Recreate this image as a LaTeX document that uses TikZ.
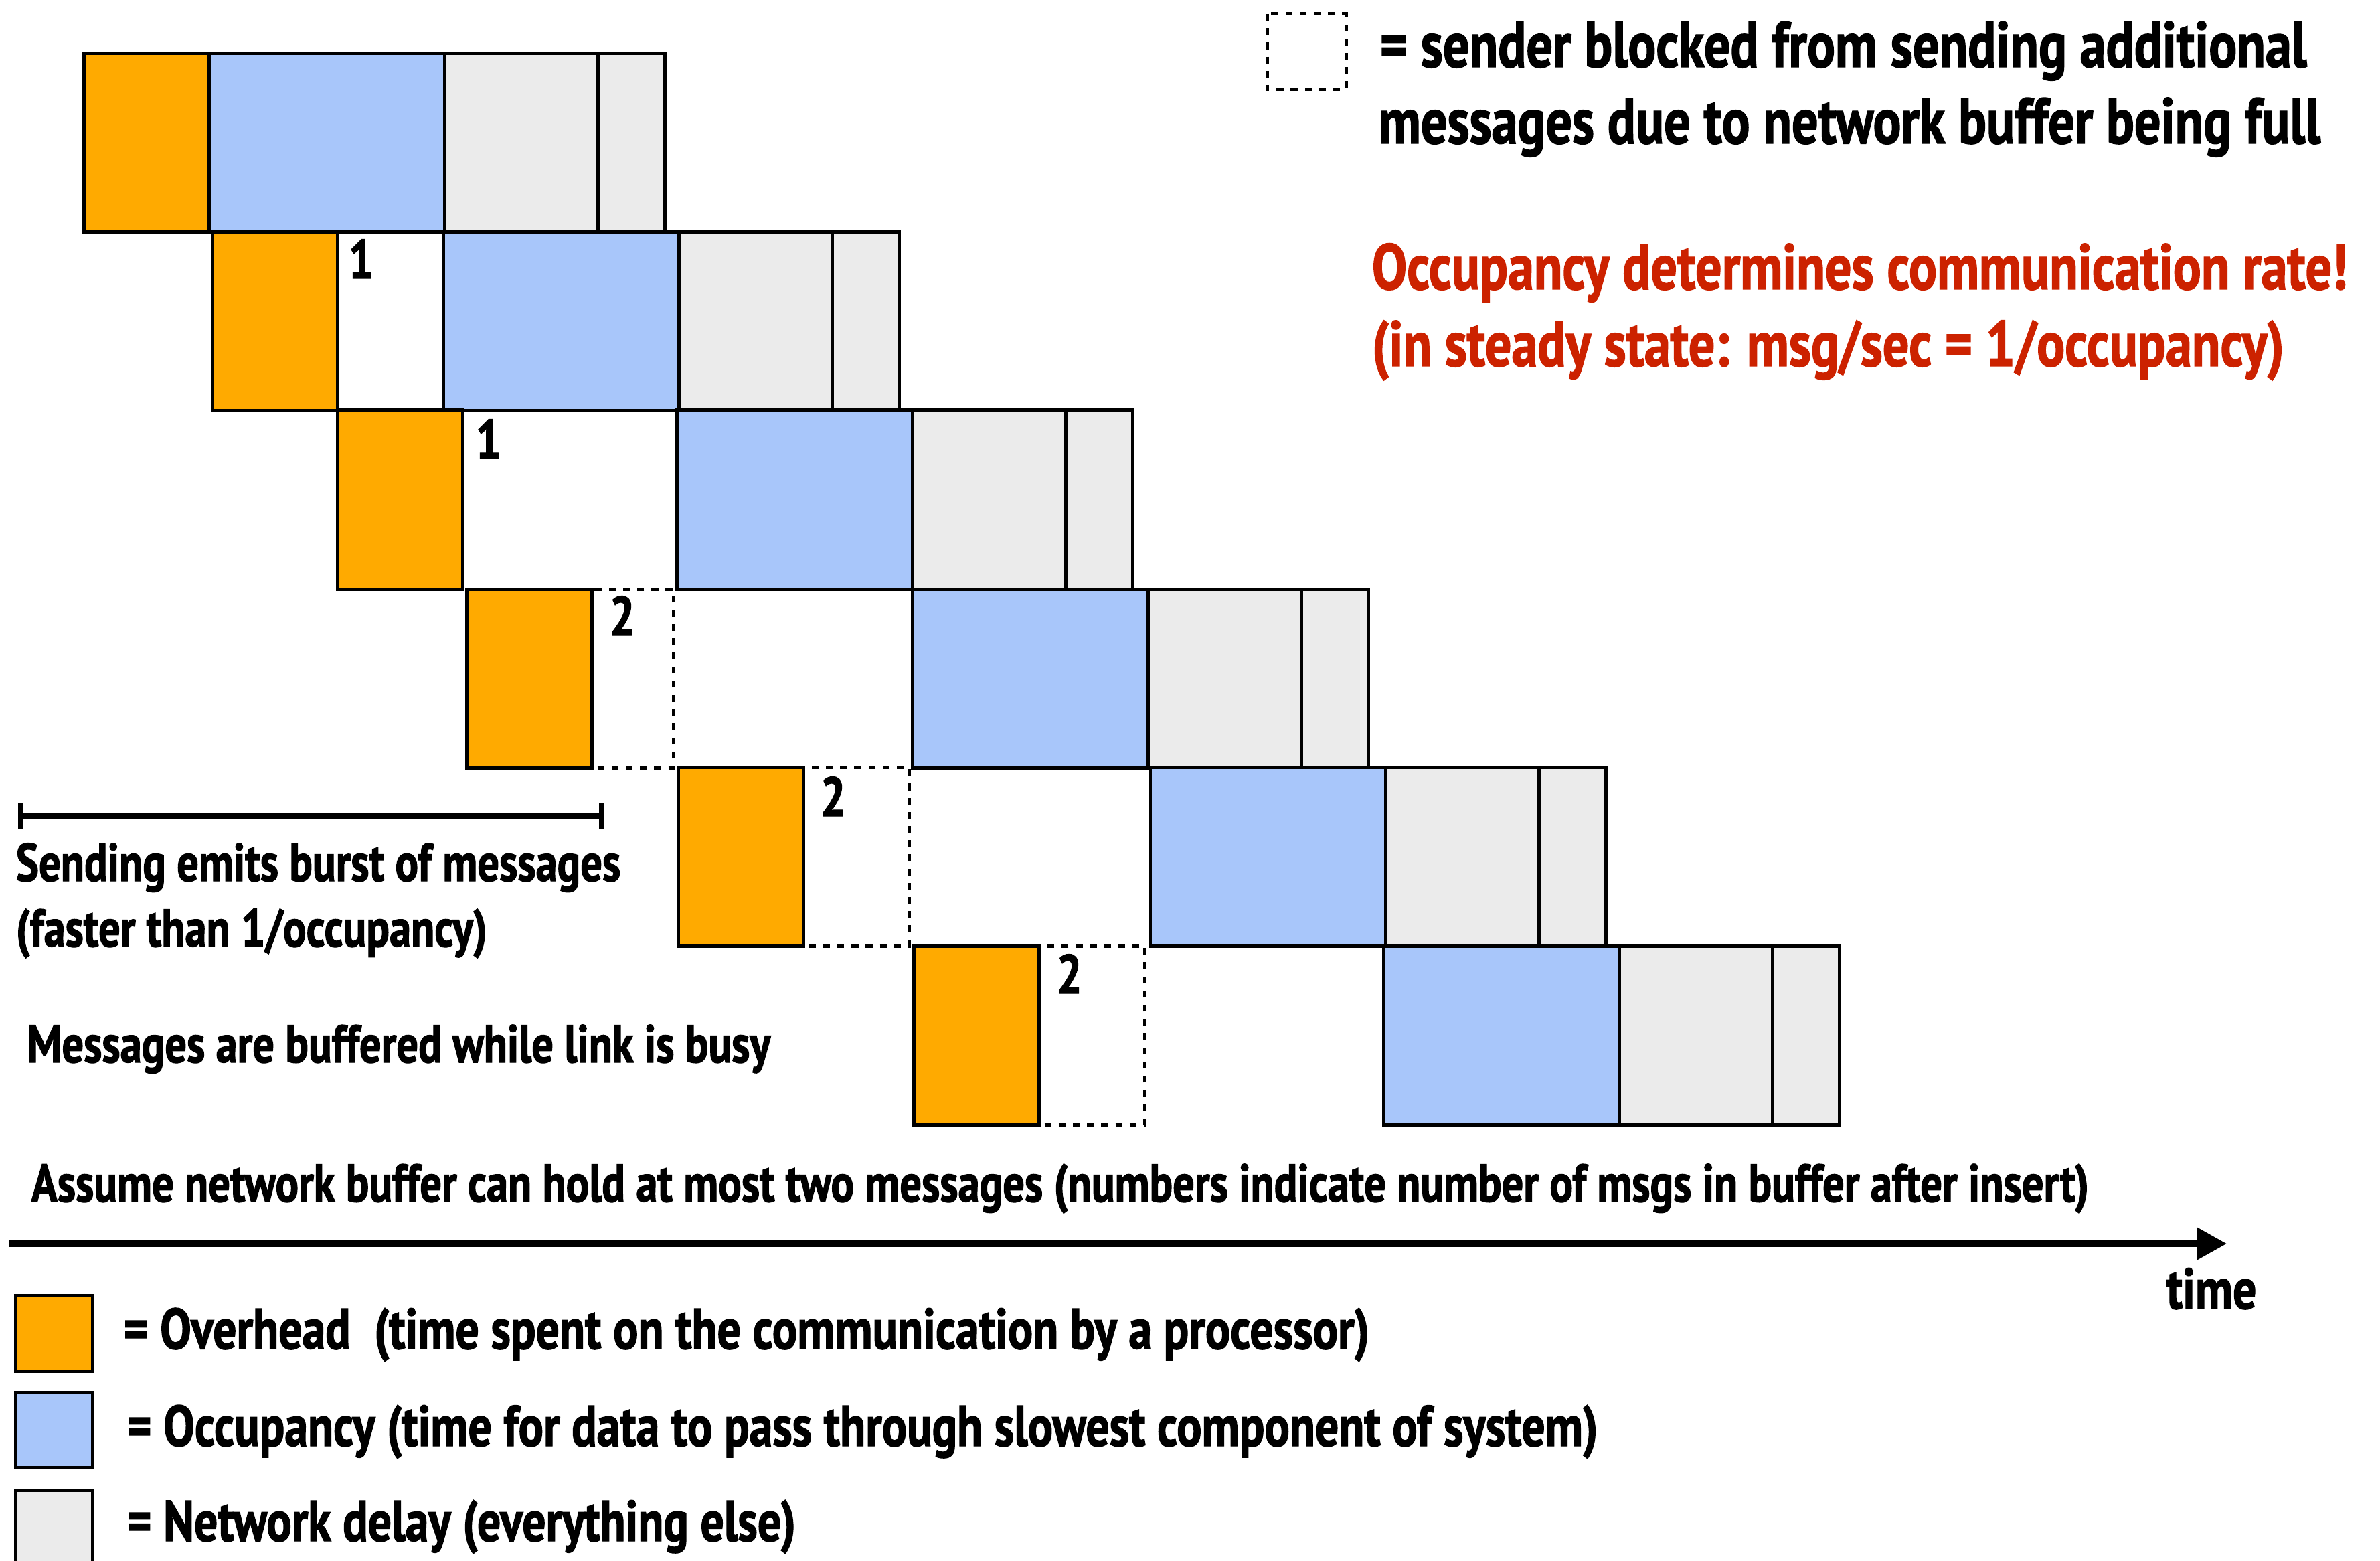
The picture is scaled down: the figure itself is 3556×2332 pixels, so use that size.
\documentclass[tikz,border=0pt]{standalone}
\usepackage{fontspec}
\setmainfont{PT Sans}[FakeStretch=0.815,FakeBold=1.5]
\usetikzlibrary{arrows.meta}
\definecolor{ovh}{RGB}{255,170,0}
\definecolor{occ}{RGB}{168,198,250}
\definecolor{ndl}{RGB}{235,235,235}
\definecolor{redtxt}{RGB}{204,34,0}
\tikzset{
  box/.style={draw=black,line width=1.25pt},
  ovhbox/.style={box,fill=ovh},
  occbox/.style={box,fill=occ},
  ndlbox/.style={box,fill=ndl},
  blockbox/.style={draw=black,line width=1.25pt,dash pattern=on 2.6pt off 2.7pt},
  txt/.style={anchor=base west,inner sep=0pt,font=\fontsize{19.8}{24}\selectfont\bfseries},
  keytxt/.style={anchor=base west,inner sep=0pt,font=\fontsize{21.4}{26}\selectfont\bfseries},
  bigtxt/.style={anchor=base west,inner sep=0pt,font=\fontsize{24}{29}\selectfont\bfseries},
  numtxt/.style={anchor=base west,inner sep=0pt,font=\fontsize{20.5}{24}\selectfont\bfseries},
}
% \msgrow{top}{orange x}{blue x}
\newcommand{\msgrow}[3]{%
  \path[ovhbox] (#2,#1) rectangle ++(187,267);
  \path[occbox] (#3,#1) rectangle ++(352,267);
  \path[ndlbox] (#3+352,#1) rectangle ++(229,267);
  \path[ndlbox] (#3+581,#1) rectangle ++(100,267);
}
\begin{document}
\begin{tikzpicture}[x=0.25pt,y=-0.25pt]
\useasboundingbox (0,0) rectangle (3556,2332);
\fill[white] (0,0) rectangle (3556,2332);

% rows
\msgrow{80}{125}{312}
\msgrow{347}{317}{662}
\msgrow{613}{504}{1011}
\msgrow{880}{697}{1363}
\msgrow{1146}{1013}{1718}
\msgrow{1413}{1365}{2067}

% blocked boxes
\path[blockbox] (884,880) rectangle (1006,1147);
\path[blockbox] (1200,1146) rectangle (1358,1413);
\path[blockbox] (1552,1413) rectangle (1710,1680);

% buffer counts
\node[numtxt] (n2) at (520,416) {1};
\node[numtxt] (n3) at (710,685) {1};
\node[numtxt] (n4) at (910,949) {2};
\node[numtxt] (n5) at (1225,1219) {2};
\node[numtxt] (n6) at (1578,1484) {2};

% top-right legend
\path[blockbox] (1893,21) rectangle (2011,134);
\node[bigtxt] (lg1) at (2061,100) {= sender blocked from sending additional};
\node[bigtxt] (lg2) at (2059,214) {messages due to network buffer being full};
\node[bigtxt,text=redtxt] (r1) at (2049,432) {Occupancy determines communication rate!};
\node[bigtxt,text=redtxt] (r2) at (2049,547) {(in steady state: msg/sec = 1/occupancy)};

% burst bracket
\coordinate (bl) at (31,1219);
\coordinate (br) at (899,1219);
\draw[line width=2pt] (bl) -- (br);
\draw[line width=2pt] ([yshift=5pt]bl) -- ([yshift=-5pt]bl);
\draw[line width=2pt] ([yshift=5pt]br) -- ([yshift=-5pt]br);
\node[txt] (s1) at (23,1316) {Sending emits burst of messages};
\node[txt] (s2) at (23,1414) {(faster than 1/occupancy)};
\node[txt] (s3) at (40,1587) {Messages are buffered while link is busy};
\node[txt] (s4) at (46,1795) {Assume network buffer can hold at most two messages (numbers indicate number of msgs in buffer after insert)};

% time axis
\coordinate (t0) at (14,1858);
\coordinate (t1) at (3327,1858);
\draw[line width=2.3pt,-{Triangle[length=11pt,width=11.5pt]}] (t0) -- (t1);
\node[keytxt] (tm) at (3236,1955) {time};

% bottom legend
\path[ovhbox] (23,1935) rectangle (138,2048);
\path[occbox] (23,2080) rectangle (138,2192);
\path[ndlbox] (23,2226) rectangle (138,2345);
\node[keytxt] (k1) at (184,2015) {= Overhead\ \ (time spent on the communication by a processor)};
\node[keytxt] (k2) at (189,2160) {= Occupancy (time for data to pass through slowest component of system)};
\node[keytxt] (k3) at (189,2302) {= Network delay (everything else)};
\end{tikzpicture}
\end{document}
